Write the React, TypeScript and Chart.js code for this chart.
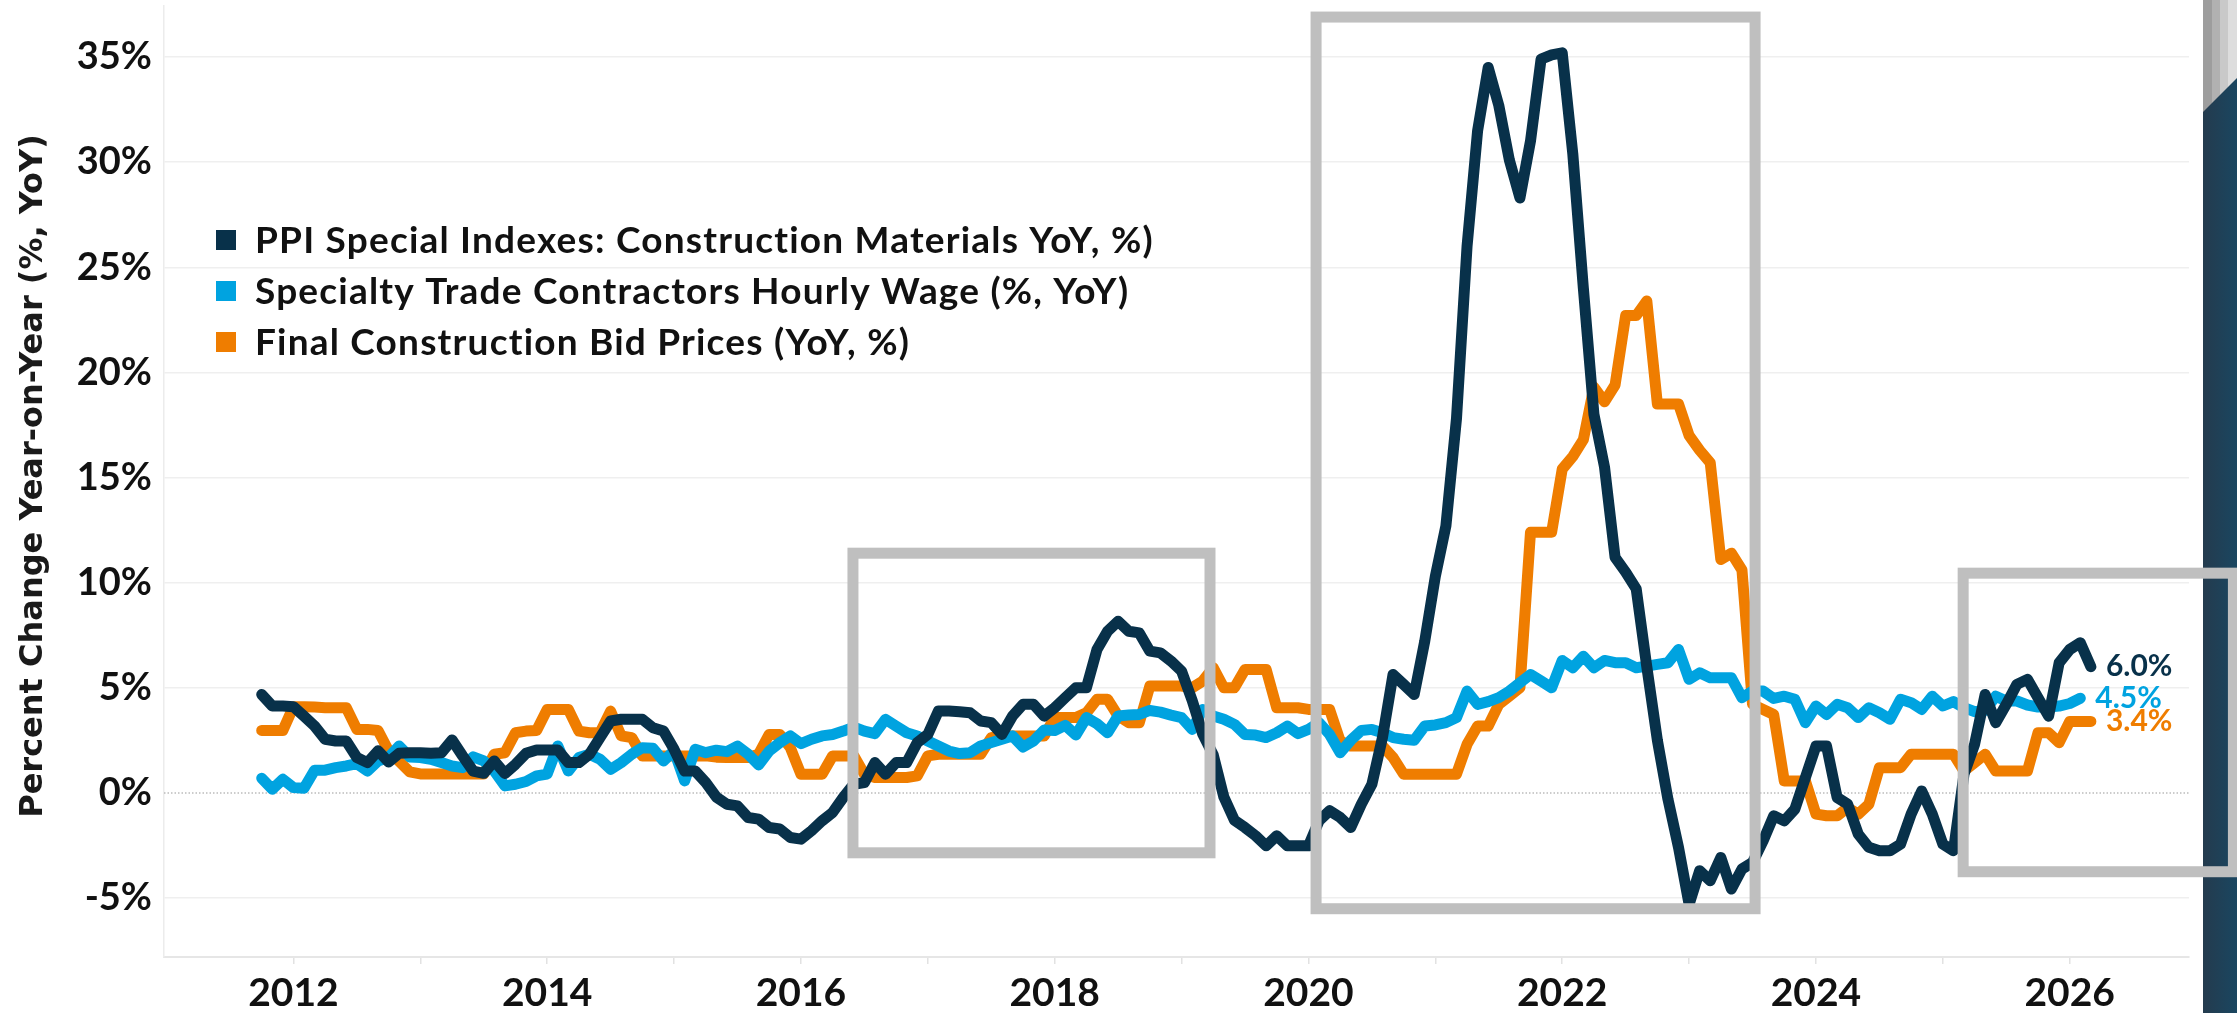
import React, { useEffect, useRef } from 'react';
import { Chart, registerables } from 'chart.js';

Chart.register(...registerables);

// ---------- Data (monthly, starting October 2011) ----------
const START_YEAR = 2011;
const START_MONTH = 10;

const SERIES_NAMES = [
  'PPI Special Indexes: Construction Materials YoY, %)',
  'Specialty Trade Contractors Hourly Wage (%, YoY)',
  'Final Construction Bid Prices (YoY, %)',
];
const SERIES_COLORS = ['#08314a', '#00a3e0', '#ef7d00'];

const PPI = [
  4.68, 4.13, 4.13, 4.1, 3.65, 3.18, 2.55, 2.47, 2.47, 1.68, 1.44, 2.0,
  1.47, 1.88, 1.91, 1.91, 1.88, 1.91, 2.52, 1.76, 1.04, 0.93, 1.52, 0.92,
  1.36, 1.88, 2.04, 2.04, 2.04, 1.44, 1.44, 1.84, 2.63, 3.42, 3.5, 3.5,
  3.5, 3.1, 2.94, 2.07, 1.04, 1.04, 0.49, -0.2, -0.54, -0.62, -1.17, -1.25,
  -1.65, -1.72, -2.12, -2.2, -1.8, -1.33, -0.93, -0.22, 0.41, 0.49, 1.44, 0.89,
  1.44, 1.44, 2.39, 2.78, 3.89, 3.89, 3.86, 3.81, 3.42, 3.34, 2.78, 3.65,
  4.21, 4.21, 3.65, 4.05, 4.53, 5.0, 5.0, 6.82, 7.69, 8.16, 7.69, 7.61,
  6.74, 6.66, 6.27, 5.79, 4.4, 2.8, 1.8, -0.2, -1.3, -1.65, -2.04, -2.52,
  -2.04, -2.52, -2.52, -2.52, -1.33, -0.85, -1.17, -1.65, -0.54, 0.41, 2.63, 5.63,
  5.16, 4.68, 7.22, 10.3, 12.7, 17.8, 26.0, 31.5, 34.5, 32.7, 30.1, 28.3,
  31.0, 34.9, 35.1, 35.2, 30.4, 24.0, 18.0, 15.5, 11.2, 10.5, 9.7, 6.0,
  2.5, -0.3, -2.6, -5.3, -3.7, -4.18, -3.07, -4.57, -3.62, -3.31, -2.28, -1.09,
  -1.33, -0.78, 0.73, 2.23, 2.23, -0.22, -0.54, -1.96, -2.59, -2.75, -2.75, -2.44,
  -1.01, 0.09, -1.01, -2.44, -2.75, 0.89, 2.31, 4.68, 3.34, 4.21, 5.16, 5.4,
  4.53, 3.65, 6.19, 6.82, 7.14, 6.0,
];

const WAGE = [
  0.7, 0.17, 0.65, 0.25, 0.22, 1.08, 1.08, 1.2, 1.28, 1.39, 1.04, 1.52,
  1.68, 2.23, 1.71, 1.68, 1.6, 1.44, 1.28, 1.2, 1.71, 1.52, 1.04, 0.33,
  0.41, 0.54, 0.81, 0.89, 2.23, 1.04, 1.68, 1.84, 1.6, 1.12, 1.44, 1.84,
  2.15, 2.12, 1.52, 2.0, 0.57, 2.07, 1.91, 2.03, 1.96, 2.23, 1.84, 1.33,
  1.99, 2.39, 2.71, 2.34, 2.55, 2.71, 2.78, 2.94, 3.13, 2.94, 2.82, 3.5,
  3.18, 2.86, 2.71, 2.47, 2.23, 1.99, 1.87, 1.91, 2.23, 2.39, 2.55, 2.71,
  2.18, 2.47, 2.99, 2.97, 3.21, 2.75, 3.58, 3.29, 2.86, 3.66, 3.7, 3.73,
  3.92, 3.84, 3.7, 3.58, 3.02, 3.97, 3.66, 3.5, 3.26, 2.78, 2.75, 2.63,
  2.86, 3.18, 2.82, 3.02, 3.34, 2.78, 1.91, 2.5, 2.97, 3.02, 2.86, 2.63,
  2.55, 2.5, 3.18, 3.23, 3.34, 3.58, 4.84, 4.21, 4.34, 4.53, 4.84, 5.24,
  5.63, 5.32, 5.0, 6.3, 5.95, 6.5, 5.95, 6.3, 6.19, 6.19, 5.95, 6.03,
  6.11, 6.19, 6.82, 5.4, 5.71, 5.47, 5.47, 5.47, 4.53, 4.84, 4.84, 4.49,
  4.6, 4.45, 3.34, 4.13, 3.73, 4.21, 4.05, 3.58, 4.05, 3.81, 3.5, 4.45,
  4.29, 3.97, 4.6, 4.13, 4.34, 4.05, 3.86, 3.92, 4.6, 4.37, 4.37, 4.18,
  4.08, 4.08, 4.13, 4.25, 4.5,
];

const BID = [
  2.97, 2.97, 2.97, 4.1, 4.1, 4.08, 4.05, 4.05, 4.05, 3.02, 3.02, 2.97,
  2.0, 1.5, 1.0, 0.9, 0.9, 0.9, 0.9, 0.9, 0.9, 0.9, 1.84, 1.91,
  2.86, 2.94, 2.97, 3.97, 3.97, 3.97, 2.94, 2.86, 2.86, 3.89, 2.71, 2.63,
  1.76, 1.76, 1.76, 1.76, 1.76, 1.76, 1.76, 1.7, 1.68, 1.68, 1.68, 1.84,
  2.78, 2.78, 2.15, 0.89, 0.89, 0.89, 1.76, 1.76, 1.76, 0.89, 0.73, 0.73,
  0.73, 0.73, 0.81, 1.76, 1.84, 1.84, 1.84, 1.84, 1.84, 2.63, 2.71, 2.71,
  2.71, 2.71, 2.71, 3.58, 3.58, 3.58, 3.81, 4.45, 4.45, 3.66, 3.34, 3.34,
  5.08, 5.08, 5.08, 5.08, 5.0, 5.32, 5.95, 5.0, 5.0, 5.87, 5.87, 5.87,
  4.05, 4.05, 4.05, 3.97, 3.97, 3.97, 2.47, 2.23, 2.23, 2.23, 2.23, 1.68,
  0.89, 0.89, 0.89, 0.89, 0.89, 0.89, 2.31, 3.18, 3.18, 4.21, 4.6, 5.0,
  12.4, 12.4, 12.4, 15.4, 16.0, 16.8, 19.3, 18.6, 19.4, 22.7, 22.7, 23.4,
  18.5, 18.5, 18.5, 17.0, 16.3, 15.7, 11.1, 11.4, 10.6, 4.21, 3.97, 3.73,
  0.57, 0.57, 0.57, -1.01, -1.09, -1.09, -0.7, -1.01, -0.54, 1.2, 1.2, 1.2,
  1.84, 1.84, 1.84, 1.84, 1.84, 1.04, 1.44, 1.84, 1.04, 1.04, 1.04, 1.04,
  2.86, 2.86, 2.39, 3.4, 3.4, 3.4,
];

const Y_TICKS = [-5, 0, 5, 10, 15, 20, 25, 30, 35];
const X_TICKS = [2012, 2013, 2014, 2015, 2016, 2017, 2018, 2019, 2020, 2021, 2022, 2023, 2024, 2025, 2026];
const X_LABELED = [2012, 2014, 2016, 2018, 2020, 2022, 2024, 2026];

const Y_TITLE = 'Percent Change Year-on-Year (%, YoY)';

// Highlight boxes (annotation, in data units)
const BOXES = [
  { x0: 2016.41, x1: 2019.224, y0: -2.85, y1: 11.4 },
  { x0: 2020.06, x1: 2023.52, y0: -5.51, y1: 36.9 },
  { x0: 2025.16, x1: 2027.29, y0: -3.75, y1: 10.45 },
];

const MONTHS = PPI.map((_, i) => START_YEAR + (START_MONTH - 1 + i) / 12);

const overlayPlugin = {
  id: 'overlay',
  beforeDatasetsDraw(chart: any) {
    const { ctx, chartArea, scales } = chart;
    const py = scales.y.getPixelForValue(0);
    ctx.save();
    ctx.strokeStyle = '#bcbcbc';
    ctx.lineWidth = 1.5;
    ctx.setLineDash([1.5, 2]);
    ctx.beginPath();
    ctx.moveTo(chartArea.left, py);
    ctx.lineTo(chartArea.right, py);
    ctx.stroke();
    ctx.restore();
  },
  afterDraw(chart: any) {
    const { ctx, scales } = chart;
    const W = chart.width;
    const H = chart.height;
    const xs = scales.x;
    const ys = scales.y;
    ctx.save();

    // right decorative panel
    const pl = 2203;
    const grad = ctx.createLinearGradient(pl, 0, W, 0);
    grad.addColorStop(0, '#243b4e');
    grad.addColorStop(1, '#1a4660');
    ctx.fillStyle = grad;
    ctx.fillRect(pl, 0, W - pl, H);
    const stripes = [
      [2203, 2212, '#9d9d9d'],
      [2212, 2220, '#b1b1b1'],
      [2220, 2228, '#c9c9c9'],
      [2228, 2237, '#dddddd'],
    ] as const;
    const yAt = (px: number) => 112 - ((px - 2203) / (2237 - 2203)) * (112 - 78);
    stripes.forEach(([a, b, c]) => {
      ctx.fillStyle = c;
      ctx.beginPath();
      ctx.moveTo(a, 0);
      ctx.lineTo(b, 0);
      ctx.lineTo(b, yAt(b));
      ctx.lineTo(a, yAt(a));
      ctx.closePath();
      ctx.fill();
    });

    // highlight boxes
    ctx.strokeStyle = '#bfbfbf';
    ctx.lineWidth = 11;
    ctx.lineJoin = 'miter';
    BOXES.forEach((b) => {
      const l = xs.getPixelForValue(b.x0);
      const r = xs.getPixelForValue(b.x1);
      const t = ys.getPixelForValue(b.y1);
      const bt = ys.getPixelForValue(b.y0);
      ctx.strokeRect(l, t, r - l, bt - t);
    });

    // end-of-line value labels
    ctx.font = 'bold 30px Lato';
    ctx.textAlign = 'left';
    ctx.textBaseline = 'middle';
    chart.data.datasets.forEach((ds: any, i: number) => {
      const meta = chart.getDatasetMeta(i);
      const pts = meta.data;
      const last = pts[pts.length - 1];
      const v = ds.data[ds.data.length - 1];
      ctx.fillStyle = SERIES_COLORS[i];
      ctx.fillText(`${v.toFixed(1)}%`, last.x + 15, last.y);
    });

    // legend
    const legendY = [240, 291, 342];
    ctx.font = 'bold 37px Lato';
    try {
      (ctx as any).letterSpacing = '1.2px';
    } catch (e) {}
    SERIES_NAMES.forEach((name, i) => {
      ctx.fillStyle = SERIES_COLORS[i];
      ctx.fillRect(216, legendY[i] - 10, 20, 20);
      ctx.fillStyle = '#111111';
      ctx.fillText(name, 255, legendY[i] + 1);
    });
    try {
      (ctx as any).letterSpacing = '0px';
    } catch (e) {}

    // y axis title
    ctx.translate(34, 476);
    ctx.rotate(-Math.PI / 2);
    ctx.font = 'bold 32px "DejaVu Sans"';
    ctx.textAlign = 'center';
    ctx.textBaseline = 'middle';
    ctx.fillStyle = '#1a1a1a';
    ctx.fillText(Y_TITLE, 0, 0);

    ctx.restore();
  },
};

export default function App() {
  const canvasRef = useRef<HTMLCanvasElement | null>(null);

  useEffect(() => {
    const canvas = canvasRef.current;
    if (!canvas) return;
    const chart = new Chart(canvas, {
      type: 'line',
      data: {
        labels: MONTHS,
        datasets: [
          { label: SERIES_NAMES[0], data: PPI, borderColor: SERIES_COLORS[0] },
          { label: SERIES_NAMES[1], data: WAGE, borderColor: SERIES_COLORS[1] },
          { label: SERIES_NAMES[2], data: BID, borderColor: SERIES_COLORS[2] },
        ].map((d) => ({
          ...d,
          borderWidth: 11,
          pointRadius: 0,
          pointHoverRadius: 0,
          tension: 0,
          fill: false,
          borderJoinStyle: 'round' as const,
          borderCapStyle: 'round' as const,
        })),
      },
      options: {
        responsive: false,
        maintainAspectRatio: false,
        devicePixelRatio: 1,
        animation: false,
        events: [],
        layout: { padding: { top: 2, right: 48, left: 0, bottom: 0 } },
        plugins: {
          legend: { display: false },
          tooltip: { enabled: false },
          title: { display: false },
        },
        scales: {
          x: {
            type: 'linear',
            min: 2010.98,
            max: 2026.94,
            afterBuildTicks: (s: any) => {
              s.ticks = X_TICKS.map((v) => ({ value: v }));
            },
            afterFit: (s: any) => {
              s.height = 56;
              s.paddingLeft = 0;
              s.paddingRight = 0;
              s.paddingTop = 0;
              s.paddingBottom = 0;
            },
            grid: {
              drawOnChartArea: false,
              drawTicks: true,
              tickLength: 7,
              color: '#e2e2e2',
              lineWidth: 1.5,
            },
            border: { display: true, color: '#e6e6e6', width: 2 },
            ticks: {
              autoSkip: false,
              maxRotation: 0,
              padding: 6,
              color: '#111111',
              font: { family: 'Lato', weight: 'bold', size: 39 },
              callback: (v: any) => (X_LABELED.includes(Number(v)) ? String(v) : ''),
            },
          },
          y: {
            type: 'linear',
            min: -7.806,
            max: 37.45,
            afterBuildTicks: (s: any) => {
              s.ticks = Y_TICKS.map((v) => ({ value: v }));
            },
            afterFit: (s: any) => {
              s.width = 164;
              s.paddingTop = 0;
              s.paddingBottom = 0;
              s.paddingLeft = 0;
              s.paddingRight = 0;
            },
            grid: {
              drawTicks: false,
              lineWidth: 1.5,
              color: (c: any) => (c.tick && c.tick.value === 0 ? 'rgba(0,0,0,0)' : '#efefef'),
            },
            border: { display: true, color: '#ececec', width: 1.5 },
            ticks: {
              padding: 12,
              color: '#111111',
              font: { family: 'Lato', weight: 'bold', size: 38 },
              callback: (v: any) => `${v}%`,
            },
          },
        },
      },
      plugins: [overlayPlugin],
    });

    let alive = true;
    if ((document as any).fonts && (document as any).fonts.load) {
      Promise.all([
        (document as any).fonts.load('bold 36px Lato'),
        (document as any).fonts.load('bold 30px "DejaVu Sans"'),
      ])
        .then(() => {
          if (alive) chart.update();
        })
        .catch(() => {});
    }

    return () => {
      alive = false;
      chart.destroy();
    };
  }, []);

  return (
    <div style={{ position: 'fixed', left: 0, top: 0, width: 2237, height: 1013, background: '#ffffff' }}>
      <canvas
        ref={canvasRef}
        width={2237}
        height={1013}
        style={{ display: 'block', width: 2237, height: 1013 }}
      />
    </div>
  );
}
